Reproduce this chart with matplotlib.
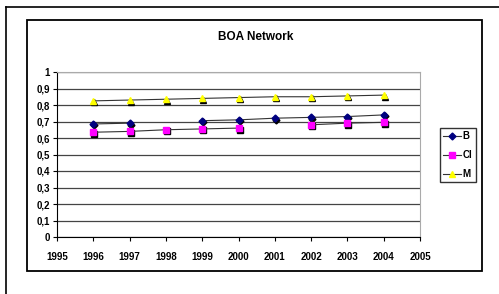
import numpy as np
import matplotlib
matplotlib.use('Agg')
import matplotlib.pyplot as plt
import matplotlib.transforms as mtransforms
from matplotlib.patches import Rectangle
from matplotlib.lines import Line2D

plt.rcParams['font.family'] = ['Liberation Sans', 'DejaVu Sans']

years = [1996, 1997, 1998, 1999, 2000, 2001, 2002, 2003, 2004]
b_vals = [0.685, 0.69, np.nan, 0.705, 0.71, 0.72, 0.725, 0.73, 0.74]
ci_vals = [0.635, 0.64, 0.65, 0.655, 0.66, np.nan, 0.68, 0.69, 0.695]
m_vals = [0.825, 0.83, 0.835, 0.84, 0.845, 0.85, 0.85, 0.855, 0.86]
series_names = ['B', 'CI', 'M']

W, H = 499, 294
fig = plt.figure(figsize=(W / 100, H / 100), dpi=100)
fig.patch.set_facecolor('white')

# outer page frame and chart box
fig.add_artist(Line2D([6 / W, 1.0], [1 - 7 / H, 1 - 7 / H], color='black', lw=1.2))
fig.add_artist(Line2D([6 / W, 6 / W], [0.0, 1 - 7 / H], color='black', lw=1.2))
fig.add_artist(Rectangle((27 / W, 1 - 271 / H), (482 - 27) / W, (271 - 20) / H,
                         fill=False, edgecolor='black', lw=1.3))

ax = fig.add_axes([57 / W, 1 - 237 / H, (420 - 57) / W, (237 - 72) / H])

styles = [
    (b_vals, 'D', '#000080', 3.5),
    (ci_vals, 's', '#ff00ff', 4.0),
    (m_vals, '^', '#ffff00', 4.8),
]
# excel-like black marker shadow, shifted down-right
shadow = mtransforms.offset_copy(ax.transData, fig=fig, x=1.0, y=-1.5, units='dots')
for (vals, mk, col, ms), name in zip(styles, series_names):
    ax.plot(years, vals, ls='none', marker=mk, ms=ms, color='black', mec='black',
            transform=shadow, zorder=4)
    ax.plot(years, vals, color='#333333', lw=0.8, marker=mk, ms=ms,
            mfc=col, mec=col, label=name, zorder=5)

ax.set_xlim(1995, 2005)
ax.set_ylim(0, 1)
ax.set_xticks(range(1995, 2006))
ax.set_yticks(np.arange(0, 1.01, 0.1))
ax.set_yticklabels(['0'] + ['0,%d' % i for i in range(1, 10)] + ['1'])
ax.yaxis.grid(True, color='#444444', lw=0.9)
ax.set_axisbelow(True)
for s in ['top', 'right']:
    ax.spines[s].set_color('#aaaaaa')
for s in ['left', 'bottom']:
    ax.spines[s].set_color('black')
ax.tick_params(axis='both', labelsize=7, length=3, width=0.8, pad=2)
ax.tick_params(axis='x', pad=8)
for lab in ax.get_xticklabels() + ax.get_yticklabels():
    lab.set_fontweight('bold')

fig.text(256 / W, 1 - 37 / H, 'BOA Network', ha='center', va='center',
         fontsize=8.5, fontweight='bold')

leg = fig.legend(loc='upper left', bbox_to_anchor=(440 / W, 1 - 128 / H),
                 fontsize=7, frameon=True, fancybox=False, edgecolor='black',
                 handlelength=1.8, handletextpad=0.2, borderpad=0.35,
                 labelspacing=0.9, borderaxespad=0)
leg.get_frame().set_linewidth(1.0)
for t in leg.get_texts():
    t.set_fontweight('bold')

fig.savefig('out.png', dpi=100)
